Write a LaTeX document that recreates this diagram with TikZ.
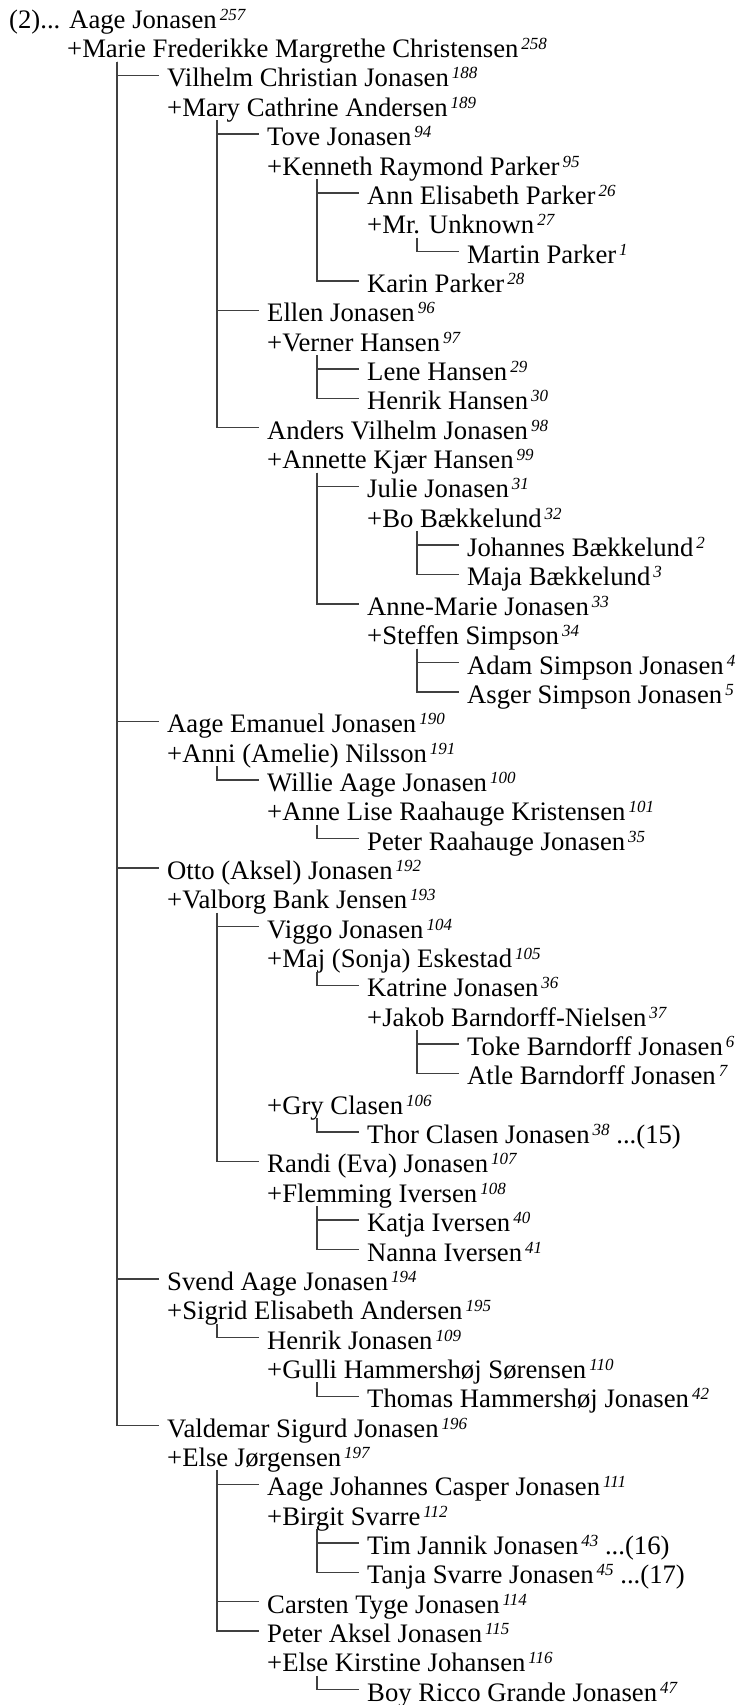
\documentclass[tikz,border=0pt]{standalone}
\usepackage{fontspec}
\setmainfont{Liberation Serif}
\usepackage{tikz}
\newcommand\nr[1]{\kern3pt\raisebox{8pt}{\fontsize{17}{17}\selectfont\itshape #1}}

\begin{document}
\begin{tikzpicture}[x=1pt, y=-29.35pt, font=\fontsize{26.7}{30}\selectfont,
  person/.style={anchor=base west, inner sep=0pt},
  link/.style={line width=1.4pt, black!75}]
\useasboundingbox (0,0.036) rectangle (739,58.127);
\node[person] (p1) at (9,1) {(2)... Aage Jonasen\nr{257}};
\foreach \i/\lv/\txt in {
  2/0/{+Marie Frederikke Margrethe Christensen\nr{258}},
  3/1/{Vilhelm Christian Jonasen\nr{188}},
  4/1/{+Mary Cathrine Andersen\nr{189}},
  5/2/{Tove Jonasen\nr{94}},
  6/2/{+Kenneth Raymond Parker\nr{95}},
  7/3/{Ann Elisabeth Parker\nr{26}},
  8/3/{+Mr. Unknown\nr{27}},
  9/4/{Martin Parker\nr{1}},
  10/3/{Karin Parker\nr{28}},
  11/2/{Ellen Jonasen\nr{96}},
  12/2/{+Verner Hansen\nr{97}},
  13/3/{Lene Hansen\nr{29}},
  14/3/{Henrik Hansen\nr{30}},
  15/2/{Anders Vilhelm Jonasen\nr{98}},
  16/2/{+Annette Kjær Hansen\nr{99}},
  17/3/{Julie Jonasen\nr{31}},
  18/3/{+Bo Bækkelund\nr{32}},
  19/4/{Johannes Bækkelund\nr{2}},
  20/4/{Maja Bækkelund\nr{3}},
  21/3/{Anne-Marie Jonasen\nr{33}},
  22/3/{+Steffen Simpson\nr{34}},
  23/4/{Adam Simpson Jonasen\nr{4}},
  24/4/{Asger Simpson Jonasen\nr{5}},
  25/1/{Aage Emanuel Jonasen\nr{190}},
  26/1/{+Anni (Amelie) Nilsson\nr{191}},
  27/2/{Willie Aage Jonasen\nr{100}},
  28/2/{+Anne Lise Raahauge Kristensen\nr{101}},
  29/3/{Peter Raahauge Jonasen\nr{35}},
  30/1/{Otto (Aksel) Jonasen\nr{192}},
  31/1/{+Valborg Bank Jensen\nr{193}},
  32/2/{Viggo Jonasen\nr{104}},
  33/2/{+Maj (Sonja) Eskestad\nr{105}},
  34/3/{Katrine Jonasen\nr{36}},
  35/3/{+Jakob Barndorff-Nielsen\nr{37}},
  36/4/{Toke Barndorff Jonasen\nr{6}},
  37/4/{Atle Barndorff Jonasen\nr{7}},
  38/2/{+Gry Clasen\nr{106}},
  39/3/{Thor Clasen Jonasen\nr{38} ...(15)},
  40/2/{Randi (Eva) Jonasen\nr{107}},
  41/2/{+Flemming Iversen\nr{108}},
  42/3/{Katja Iversen\nr{40}},
  43/3/{Nanna Iversen\nr{41}},
  44/1/{Svend Aage Jonasen\nr{194}},
  45/1/{+Sigrid Elisabeth Andersen\nr{195}},
  46/2/{Henrik Jonasen\nr{109}},
  47/2/{+Gulli Hammershøj Sørensen\nr{110}},
  48/3/{Thomas Hammershøj Jonasen\nr{42}},
  49/1/{Valdemar Sigurd Jonasen\nr{196}},
  50/1/{+Else Jørgensen\nr{197}},
  51/2/{Aage Johannes Casper Jonasen\nr{111}},
  52/2/{+Birgit Svarre\nr{112}},
  53/3/{Tim Jannik Jonasen\nr{43} ...(16)},
  54/3/{Tanja Svarre Jonasen\nr{45} ...(17)},
  55/2/{Carsten Tyge Jonasen\nr{114}},
  56/2/{Peter Aksel Jonasen\nr{115}},
  57/2/{+Else Kirstine Johansen\nr{116}},
  58/3/{Boy Ricco Grande Jonasen\nr{47}}}
    \node[person] (p\i) at (\lv*100+67,\i) {\txt};
% spouse -> child
\foreach \s/\c in {2/3,2/25,2/30,2/44,2/49,4/5,4/11,4/15,6/7,6/10,8/9,
    12/13,12/14,16/17,16/21,18/19,18/20,22/23,22/24,26/27,28/29,
    31/32,31/40,33/34,35/36,35/37,38/39,41/42,41/43,45/46,47/48,
    50/51,50/55,50/56,52/53,52/54,57/58}
  \draw[link] ([xshift=50pt,yshift=-4pt]p\s.base west) |- ([xshift=-8pt,yshift=11.5pt]p\c.base west);
\end{tikzpicture}
\end{document}
